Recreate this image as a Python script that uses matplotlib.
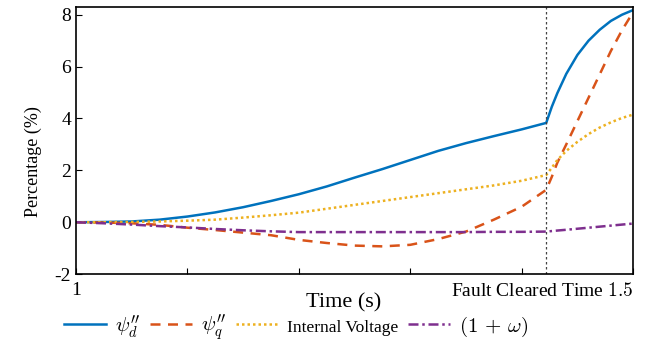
import matplotlib
matplotlib.use("Agg")
import matplotlib.pyplot as plt

plt.rcParams['font.family'] = 'serif'
plt.rcParams['font.serif'] = ['Liberation Serif', 'DejaVu Serif']
plt.rcParams['mathtext.fontset'] = 'cm'

# time samples (s)
time = [1.0, 1.025, 1.05, 1.075, 1.1, 1.125, 1.15, 1.175, 1.2, 1.225, 1.25,
        1.275, 1.3, 1.325, 1.35, 1.375, 1.4, 1.422,
        1.427, 1.432, 1.44, 1.45, 1.46, 1.47, 1.48, 1.49, 1.5]

psi_d = [0.0, 0.01, 0.03, 0.10, 0.22, 0.38, 0.58, 0.82, 1.08, 1.38, 1.72,
         2.05, 2.40, 2.75, 3.05, 3.32, 3.58, 3.83,
         4.45, 4.98, 5.72, 6.45, 7.00, 7.42, 7.76, 8.00, 8.18]

psi_q = [0.0, -0.01, -0.04, -0.10, -0.21, -0.30, -0.40, -0.50, -0.68, -0.80, -0.90,
         -0.93, -0.87, -0.65, -0.36, 0.10, 0.60, 1.25,
         1.75, 2.30, 3.00, 3.90, 4.80, 5.70, 6.60, 7.40, 8.10]

internal_voltage = [0.0, 0.0, 0.01, 0.03, 0.06, 0.10, 0.18, 0.27, 0.37, 0.52, 0.67,
                    0.82, 0.97, 1.12, 1.27, 1.42, 1.60, 1.82,
                    2.10, 2.40, 2.75, 3.10, 3.40, 3.65, 3.85, 4.02, 4.15]

one_plus_omega = [0.0, -0.04, -0.09, -0.15, -0.20, -0.26, -0.31, -0.35, -0.38, -0.38, -0.38,
                  -0.38, -0.38, -0.38, -0.38, -0.37, -0.37, -0.36,
                  -0.34, -0.32, -0.29, -0.25, -0.21, -0.17, -0.13, -0.09, -0.05]

fault_time = 1.422

series_labels = [r"$\psi_d''$", r"$\psi_q''$", "Internal Voltage", r"$(1\,+\,\omega)$"]
colors = ['#0072BD', '#D95319', '#EDB120', '#7E2F8E']

fig = plt.figure(figsize=(6.64, 3.47), dpi=100)
ax = fig.add_axes([0.1145, 0.21, 0.839, 0.77])

ax.plot(time, psi_d, color=colors[0], lw=1.8, ls='-', label=series_labels[0])
ax.plot(time, psi_q, color=colors[1], lw=1.8, ls=(0, (4, 3)), label=series_labels[1])
ax.plot(time, internal_voltage, color=colors[2], lw=1.8, ls=(0, (1, 1.2)),
        label=series_labels[2])
ax.plot(time, one_plus_omega, color=colors[3], lw=1.8, ls=(0, (4, 1.5, 1, 1.5)),
        label=series_labels[3])

ax.axvline(fault_time, color='#444444', lw=0.9, ls=(0, (2, 2)))

ax.set_xlim(1.0, 1.5)
ax.set_ylim(-2, 8.3)
ax.set_yticks([-2, 0, 2, 4, 6, 8])
ax.set_yticklabels(['-2', '0', '2', '4', '6', '8'])
ax.set_xticks([1.0, 1.1, 1.2, 1.3, 1.4, 1.5])
ax.set_xticklabels(['1', '', '', '', '', 'Fault Cleared Time $1.5$'])
xlabels = ax.get_xticklabels()
xlabels[-1].set_horizontalalignment('right')
xlabels[-1].set_fontsize(11)

ax.tick_params(direction='in', labelsize=14, length=4, width=0.8)
ax.tick_params(axis='x', pad=6)
for sp in ax.spines.values():
    sp.set_linewidth(1.2)

ax.set_xlabel('Time (s)', fontsize=16, labelpad=-5, x=0.48)
ax.set_ylabel('Percentage (%)', fontsize=13, labelpad=9, y=0.42)

leg = ax.legend(loc='center', bbox_to_anchor=(0.395, -0.2), ncol=4,
                frameon=False, fontsize=15, handlelength=2.0,
                columnspacing=0.45, handletextpad=0.45, borderpad=0.1)
leg.get_texts()[2].set_fontsize(12.5)

fig.savefig('out.png', dpi=100)
